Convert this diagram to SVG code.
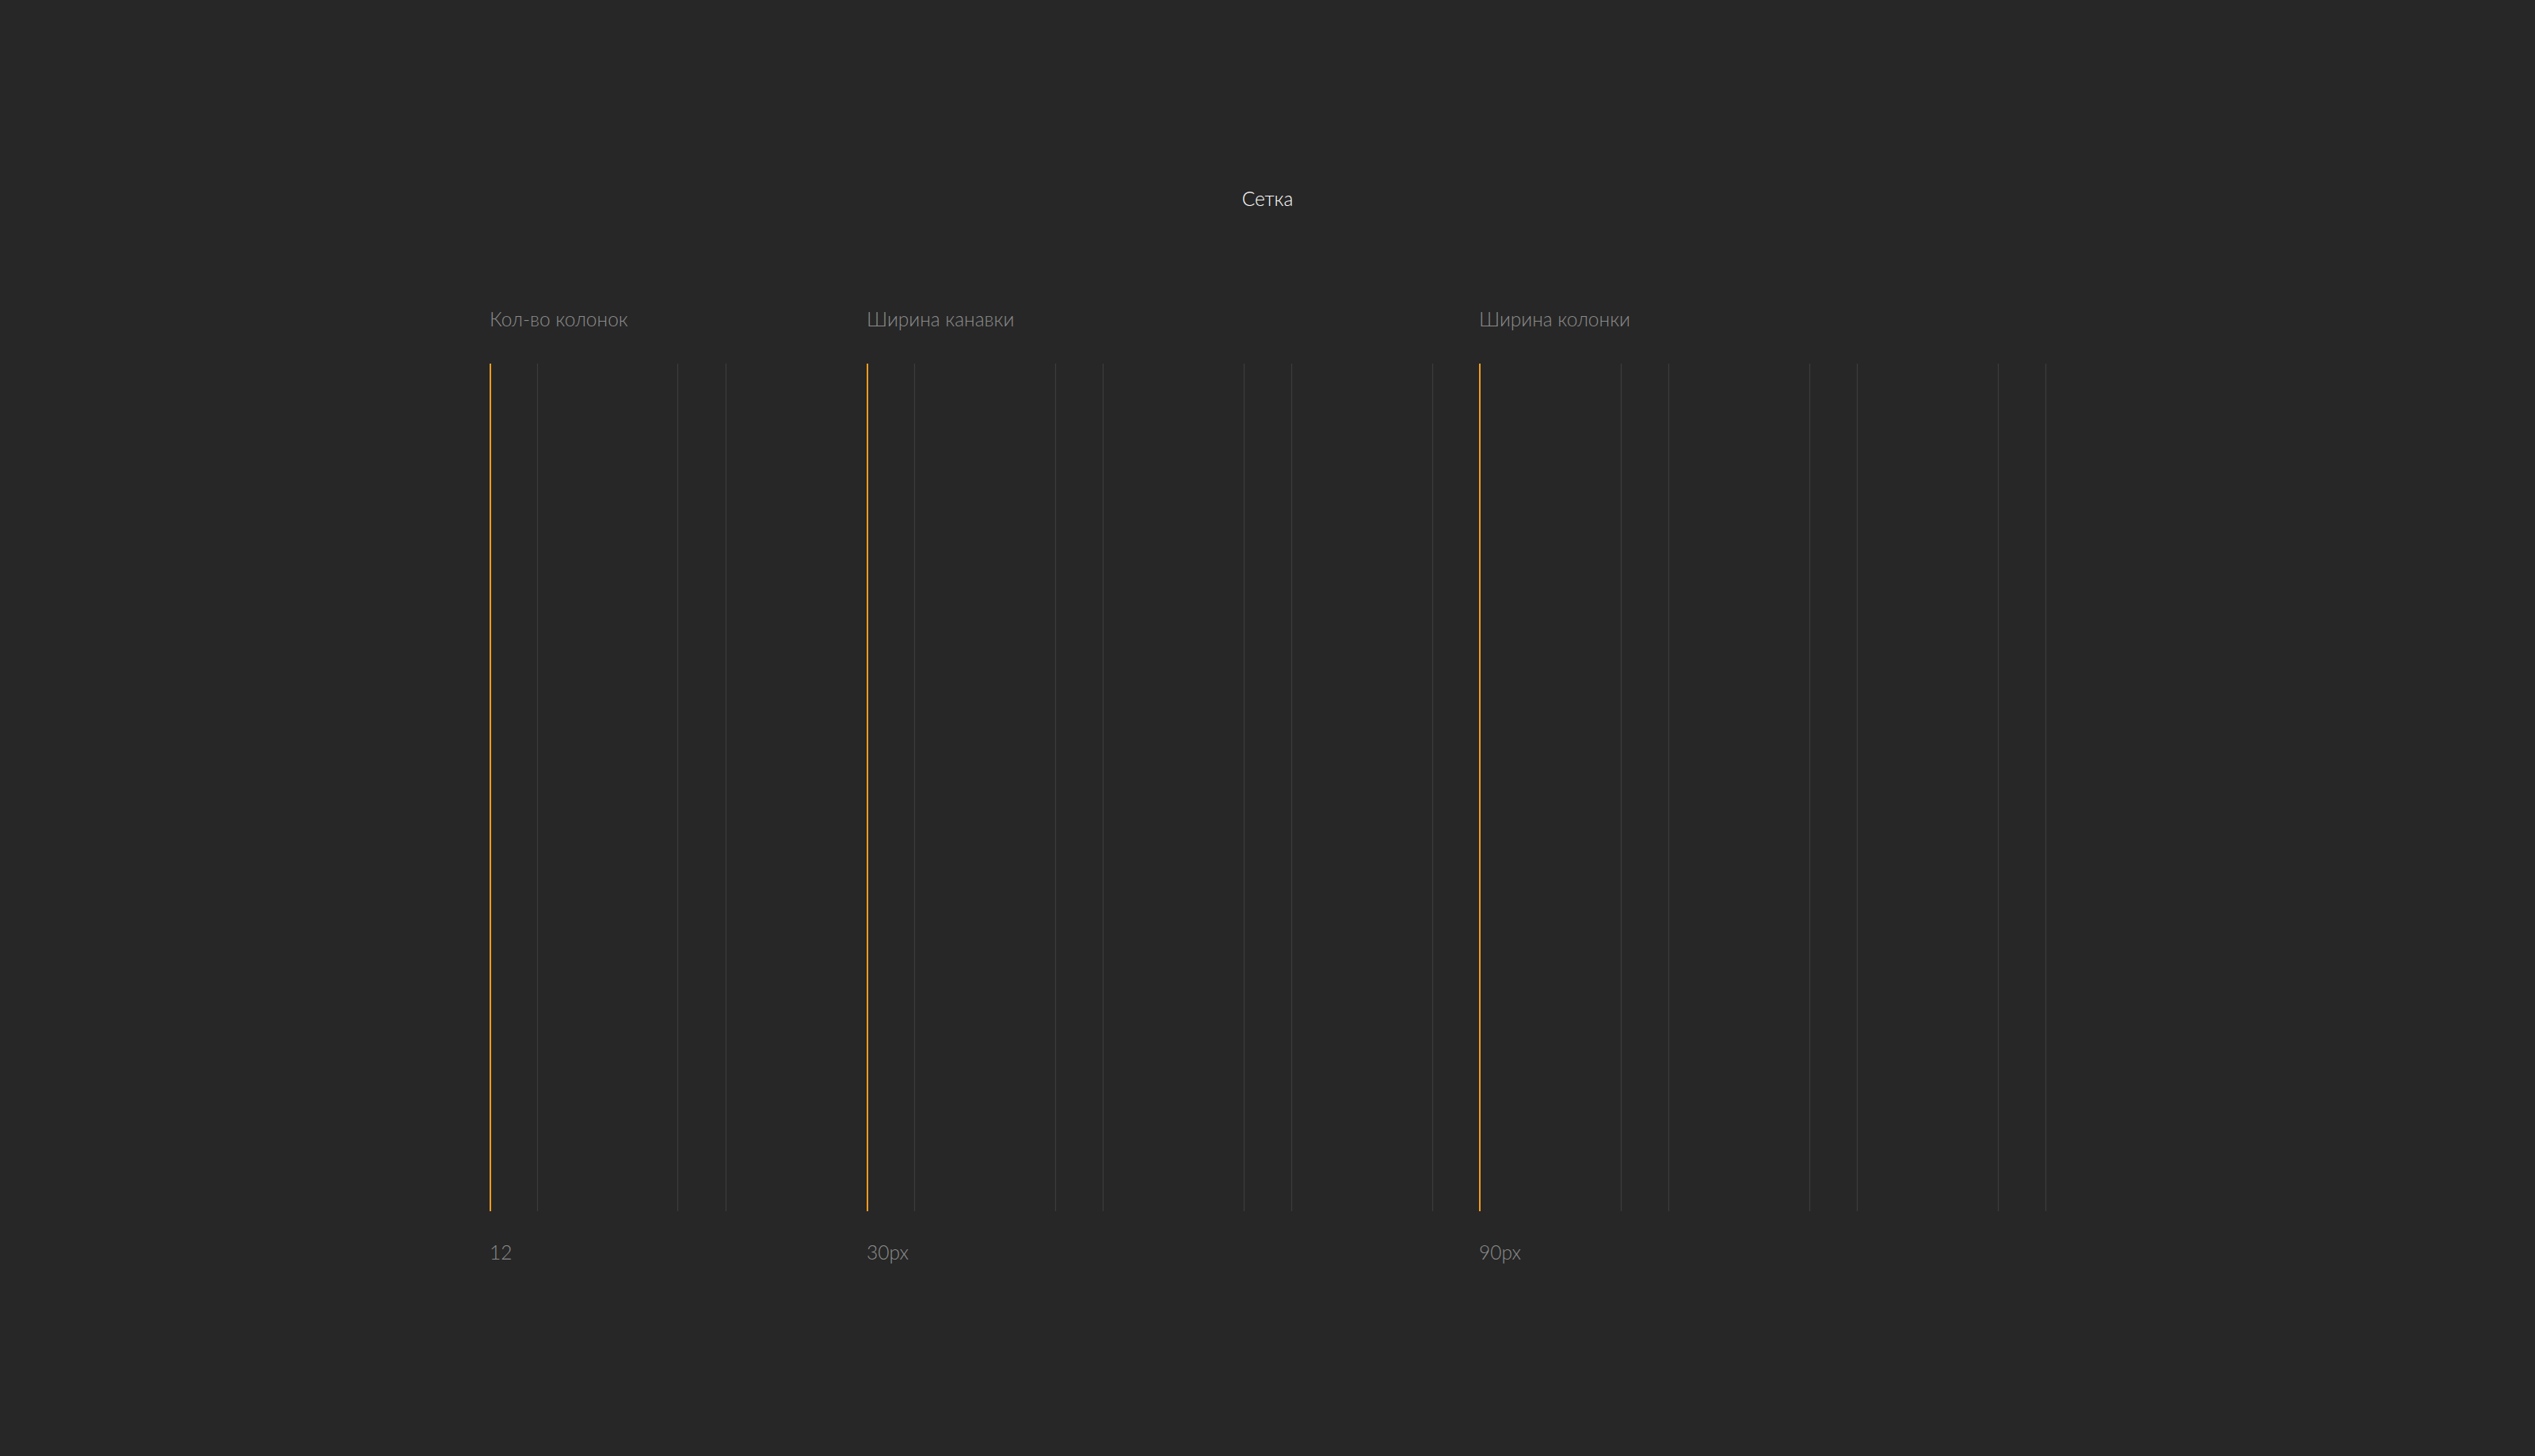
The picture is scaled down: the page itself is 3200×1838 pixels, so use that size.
<svg xmlns="http://www.w3.org/2000/svg" width="3200" height="1838" viewBox="0 0 3200 1838">
<style>
.t{font-family:Lato,"Noto Sans","Liberation Sans",sans-serif;font-size:24.5px;font-weight:300}
.title{fill:#ffffff}
.lab{fill:#8c8c8c}
.acc{stroke:#f39c1f;stroke-width:2}
.g{stroke:#3c3c3c;stroke-width:1.2}
</style>
<rect width="3200" height="1838" fill="#272727"/>
<g id="title"><text class="t title" x="1600" y="260" text-anchor="middle">Сетка</text></g>
<g id="columns-count">
<text class="t lab" x="618" y="412">Кол-во колонок</text>
<line class="acc" x1="619" y1="459" x2="619" y2="1529"/>
<line class="g" x1="678.5" y1="459" x2="678.5" y2="1529"/>
<line class="g" x1="855.5" y1="459" x2="855.5" y2="1529"/>
<line class="g" x1="916.5" y1="459" x2="916.5" y2="1529"/>
<text class="t lab" x="618" y="1590">12</text>
</g>
<g id="gutter-width">
<text class="t lab" x="1094" y="412">Ширина канавки</text>
<line class="acc" x1="1095" y1="459" x2="1095" y2="1529"/>
<line class="g" x1="1154.5" y1="459" x2="1154.5" y2="1529"/>
<line class="g" x1="1332.5" y1="459" x2="1332.5" y2="1529"/>
<line class="g" x1="1392.5" y1="459" x2="1392.5" y2="1529"/>
<line class="g" x1="1570.5" y1="459" x2="1570.5" y2="1529"/>
<line class="g" x1="1630.5" y1="459" x2="1630.5" y2="1529"/>
<line class="g" x1="1808.5" y1="459" x2="1808.5" y2="1529"/>
<text class="t lab" x="1094" y="1590">30px</text>
</g>
<g id="column-width">
<text class="t lab" x="1867" y="412">Ширина колонки</text>
<line class="acc" x1="1868" y1="459" x2="1868" y2="1529"/>
<line class="g" x1="2046.5" y1="459" x2="2046.5" y2="1529"/>
<line class="g" x1="2106.5" y1="459" x2="2106.5" y2="1529"/>
<line class="g" x1="2284.5" y1="459" x2="2284.5" y2="1529"/>
<line class="g" x1="2344.5" y1="459" x2="2344.5" y2="1529"/>
<line class="g" x1="2522.5" y1="459" x2="2522.5" y2="1529"/>
<line class="g" x1="2582.5" y1="459" x2="2582.5" y2="1529"/>
<text class="t lab" x="1867" y="1590">90px</text>
</g>
</svg>
